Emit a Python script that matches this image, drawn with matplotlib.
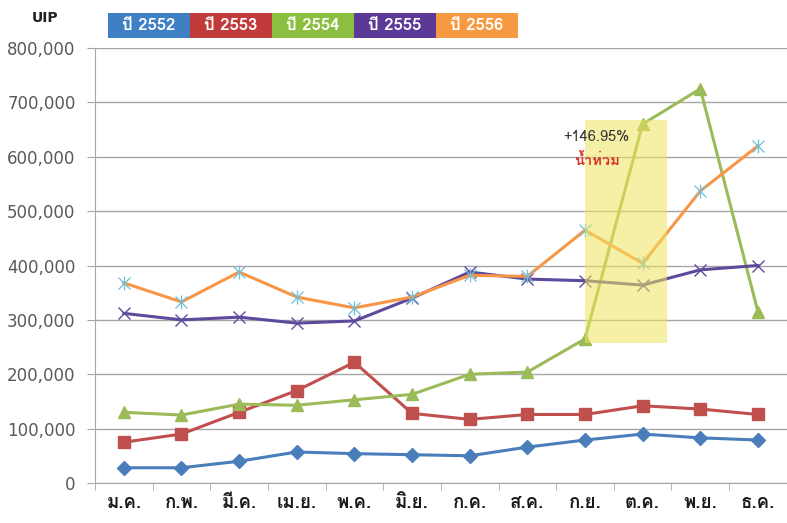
import numpy as np
import matplotlib
matplotlib.use("Agg")
import matplotlib.pyplot as plt
from matplotlib import font_manager as fm
from matplotlib.ft2font import FT2Font
from matplotlib.patches import Rectangle

months = ["ม.ค.", "ก.พ.", "มี.ค.", "เม.ย.", "พ.ค.", "มิ.ย.",
          "ก.ค.", "ส.ค.", "ก.ย.", "ต.ค.", "พ.ย.", "ธ.ค."]
years = ["ปี 2552", "ปี 2553", "ปี 2554", "ปี 2555", "ปี 2556"]

y2552 = [28000, 28000, 40000, 57000, 54000, 52000, 50000, 66000, 79000, 90000, 83000, 79000]
y2553 = [75000, 90000, 130000, 170000, 222000, 128000, 117000, 126000, 126000, 142000, 136000, 126000]
y2554 = [130000, 125000, 145000, 143000, 153000, 163000, 200000, 204000, 265000, 660000, 725000, 315000]
y2555 = [312000, 300000, 305000, 294000, 298000, 340000, 388000, 375000, 372000, 364000, 392000, 400000]
y2556 = [368000, 333000, 388000, 342000, 322000, 342000, 382000, 380000, 465000, 404000, 537000, 620000]

yticks = [0, 100000, 200000, 300000, 400000, 500000, 600000, 700000, 800000]


def thai_font():
    # find any installed font that has Thai glyphs
    for f in fm.fontManager.ttflist:
        try:
            if 0x0E1B in FT2Font(f.fname).get_charmap():
                return f.name
        except Exception:
            pass
    return "DejaVu Sans"


fam = [thai_font(), "DejaVu Sans"]

fig = plt.figure(figsize=(7.87, 5.23), dpi=100)
ax = fig.add_axes([0.1207, 0.0765, 0.879, 0.8317])

x = np.arange(len(months))
ax.plot(x, y2552, color="#4a7ebb", lw=2.2, marker="D", ms=7, zorder=3)
ax.plot(x, y2553, color="#c0504d", lw=2.2, marker="s", ms=9, zorder=3)
ax.plot(x, y2554, color="#9bbb59", lw=2.2, marker="^", ms=9, zorder=3)
ax.plot(x, y2555, color="#5e4a9c", lw=2.2, marker="x", ms=8, mew=1.0, zorder=3)
ax.plot(x, y2556, color="#f79646", lw=2.2, marker="x", ms=8, mew=0.9,
        mec="#6fbfd8", zorder=3)
ax.plot(x, y2556, ls="none", marker="|", ms=10, mew=0.9, mec="#6fbfd8", zorder=3)

# flood highlight
ax.add_patch(Rectangle((8.0, 257000), 1.42, 410000, color="#f0e460",
                       alpha=0.55, lw=0, zorder=4))
ax.text(8.2, 637000, "+146.95%", fontsize=10.5, color="#333333",
        ha="center", va="center", zorder=5, family=fam)
ax.text(8.2, 593000, "น้ำท่วม", fontsize=10.5, color="#d9342b",
        fontweight="bold", ha="center", va="center", zorder=5, family=fam)

ax.set_xlim(-0.5, 11.5)
ax.set_ylim(0, 800000)
ax.set_yticks(yticks)
ax.set_yticklabels([f"{v:,}" for v in yticks], fontsize=12, color="#595959")
ax.yaxis.grid(True, color="#a6a6a6", lw=1)
ax.set_axisbelow(True)
ax.tick_params(axis="y", length=6, color="#a6a6a6", pad=8)

ax.set_xticks(x)
ax.set_xticklabels(months, fontsize=13.5, fontweight="bold", color="#1a1a1a", family=fam)
ax.set_xticks(np.arange(-0.5, 12, 1), minor=True)
ax.tick_params(axis="x", which="major", length=0, pad=8)
ax.tick_params(axis="x", which="minor", length=5, color="#a6a6a6")

for s in ["top", "right"]:
    ax.spines[s].set_visible(False)
ax.spines["left"].set_color("#a6a6a6")
ax.spines["bottom"].set_color("#a6a6a6")

fig.text(0.057, 0.965, "UIP", fontsize=10, fontweight="bold", ha="center",
         va="center", color="#222222")

box_colors = ["#3f7fc4", "#c23b3b", "#8cbf3f", "#5a3a96", "#f59a43"]
x0 = 108
w = 82
for i, (lab, c) in enumerate(zip(years, box_colors)):
    left = (x0 + i * w) / 787
    fig.add_artist(Rectangle((left, 1 - 38 / 523), w / 787, 25 / 523,
                             transform=fig.transFigure, color=c, lw=0))
    fig.text(left + w / 2 / 787, 1 - 25.5 / 523, lab, fontsize=12, fontweight="bold",
             color="white", ha="center", va="center", family=fam)

fig.savefig("out.png", dpi=100)
